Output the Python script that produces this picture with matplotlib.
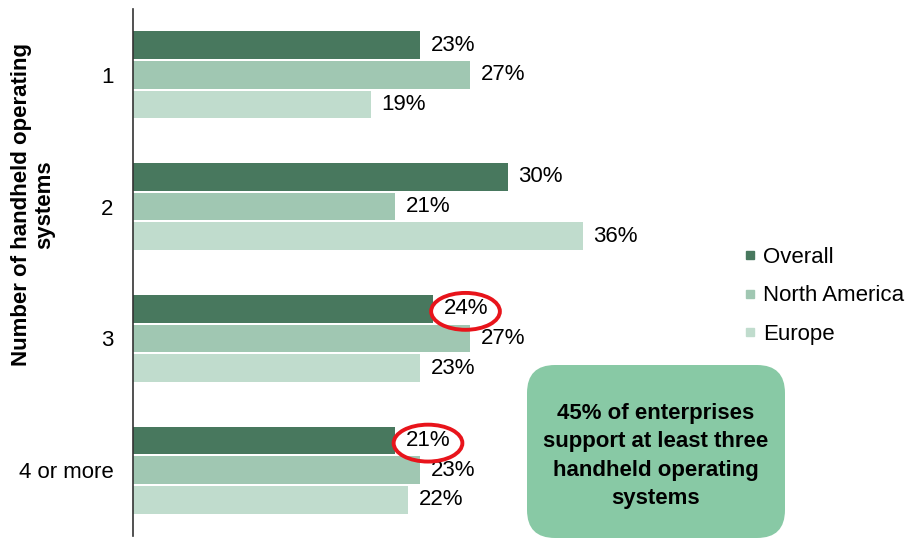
import numpy as np
import matplotlib
matplotlib.use("Agg")
import matplotlib.pyplot as plt
from matplotlib.patches import Ellipse, FancyBboxPatch
from matplotlib.lines import Line2D

plt.rcParams['font.family'] = ['Liberation Sans', 'DejaVu Sans']

# data
categories = ['1', '2', '3', '4 or more']
series = ['Overall', 'North America', 'Europe']
overall = [23, 30, 24, 21]
north_america = [27, 21, 27, 23]
europe = [19, 36, 23, 22]
colors = ['#48785E', '#A0C7B2', '#C0DCCD']
highlight = [2, 3]  # overall values circled in red

fig = plt.figure(figsize=(9.07, 5.40), dpi=100)
ax = fig.add_axes([133 / 907, 4 / 540, 1 - 133 / 907, 527 / 540])

y = np.arange(len(categories))
step = 0.225
h = 0.21
for i, (vals, c) in enumerate(zip([overall, north_america, europe], colors)):
    pos = y + (i - 1) * step
    ax.barh(pos, vals, height=h, color=c, label=series[i])
    for p, v in zip(pos, vals):
        ax.annotate(f'{v}%', (v, p), xytext=(7.5, 0), textcoords='offset points',
                    va='center', ha='left', fontsize=16, color='black')

# red circles around the highlighted labels
for k in highlight:
    ax.add_patch(Ellipse((overall[k] + 2.6, y[k] - step + 0.02), 5.5, 0.28,
                         fill=False, edgecolor='#E8141B', linewidth=2.8, zorder=5))

ax.set_xlim(0, 774 / 12.5)
ax.set_ylim(3.5, -0.5)
ax.set_yticks(y)
ax.set_yticklabels(categories, fontsize=16)
ax.tick_params(axis='y', length=0, pad=14)
ax.set_xticks([])
for s in ['top', 'right', 'bottom']:
    ax.spines[s].set_visible(False)
ax.spines['left'].set_linewidth(1.2)
ax.spines['left'].set_color('#333333')

fig.text(33 / 907, 1 - 205 / 540, 'Number of handheld operating\nsystems',
         rotation=90, ha='center', va='center', fontsize=16, fontweight='bold',
         linespacing=1.1)

handles = [Line2D([0], [0], marker='s', linestyle='', markersize=6,
                  markerfacecolor=c, markeredgecolor=c) for c in colors]
fig.legend(handles, series, loc='center left', bbox_to_anchor=(732 / 907, 1 - 296 / 540),
           frameon=False, fontsize=16, handlelength=0.6, handletextpad=0.3,
           labelspacing=0.78, borderpad=0)

box = FancyBboxPatch((527, 540 - 538), 258, 173,
                     boxstyle='round,pad=0,rounding_size=28',
                     facecolor='#88C9A5', edgecolor='none', transform=None)
fig.patches.append(box)
fig.text(656 / 907, 1 - 456 / 540,
         '45% of enterprises\nsupport at least three\nhandheld operating\nsystems',
         ha='center', va='center', fontsize=16, fontweight='bold',
         linespacing=1.45)

fig.savefig('out.png', dpi=100)
